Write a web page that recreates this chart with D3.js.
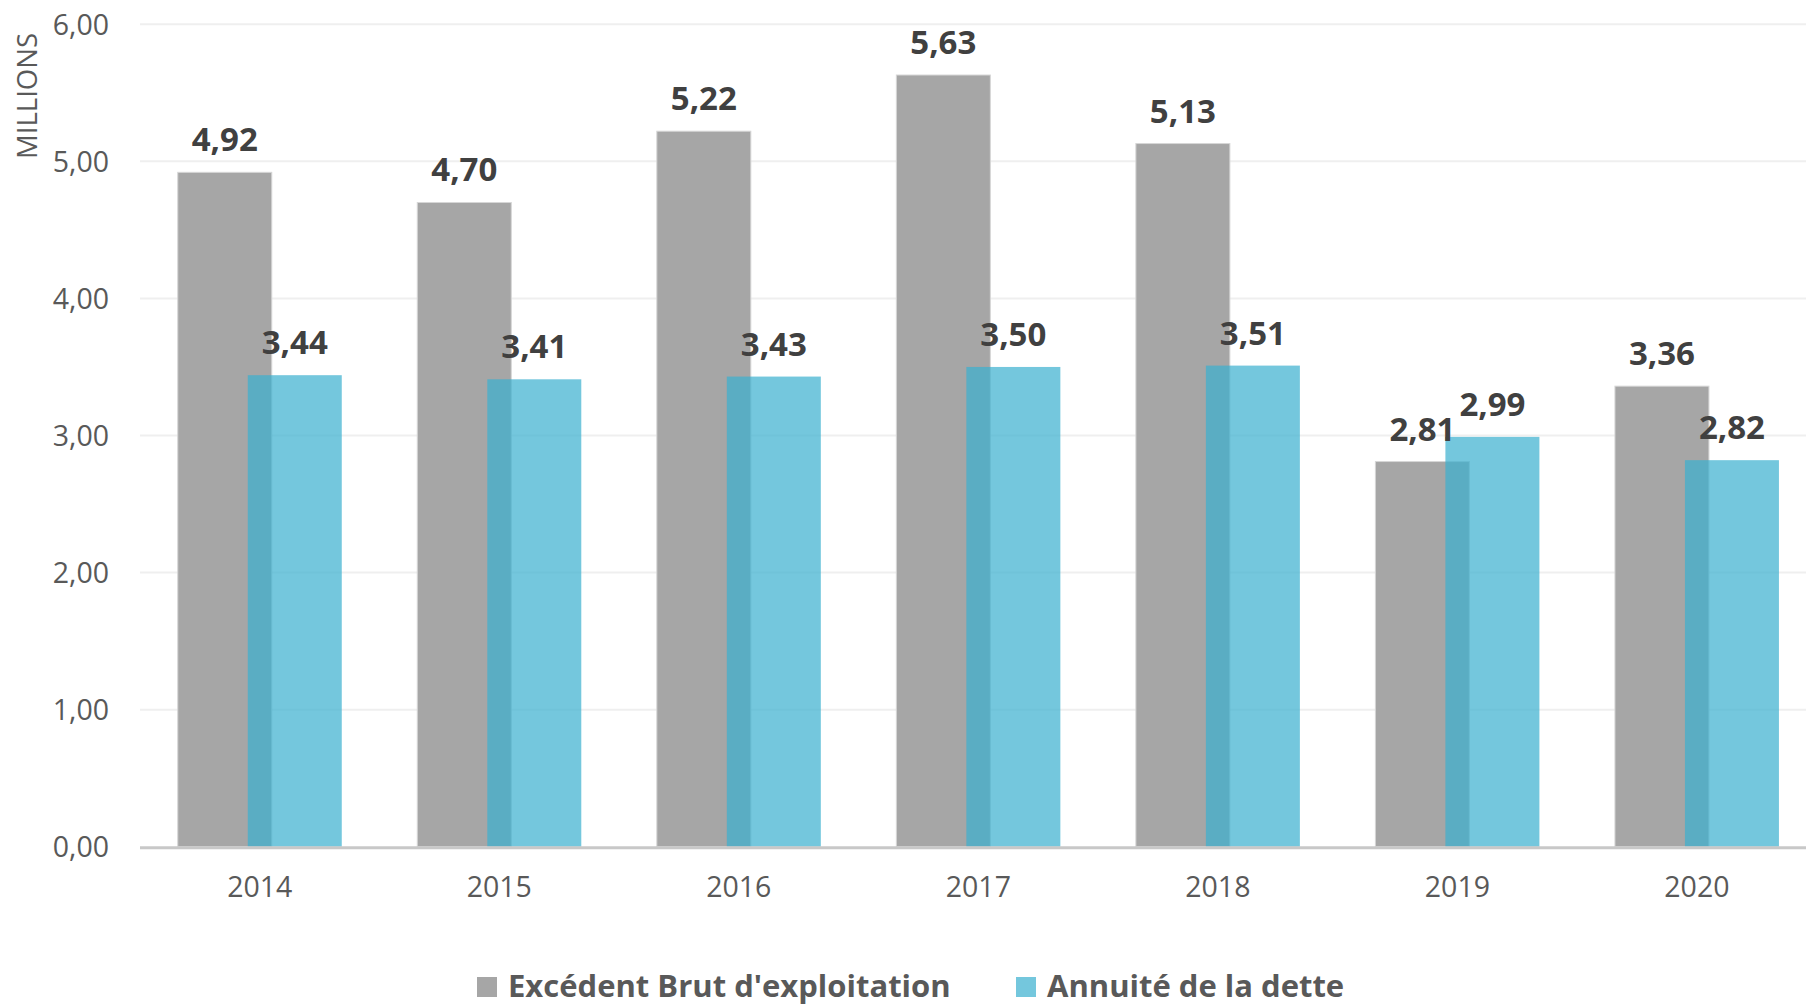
<!DOCTYPE html>
<html>
<head>
<meta charset="utf-8">
<script src="https://cdn.jsdelivr.net/npm/d3@7"></script>
<style>
  html, body { margin: 0; padding: 0; background: #ffffff; overflow: hidden; }
  svg { display: block; font-family: "Open Sans", "Noto Sans", sans-serif; }
</style>
</head>
<body>
<svg id="chart" width="1806" height="1006"></svg>
<script>
// Yearly figures, in millions of euros
const years = ["2014", "2015", "2016", "2017", "2018", "2019", "2020"];
const ebe = [4.92, 4.70, 5.22, 5.63, 5.13, 2.81, 3.36];        // Excédent Brut d'exploitation
const annuite = [3.44, 3.41, 3.43, 3.50, 3.51, 2.99, 2.82];    // Annuité de la dette
const yTicks = [0, 1, 2, 3, 4, 5, 6];
const seriesNames = ["Excédent Brut d'exploitation", "Annuité de la dette"];

const colors = { ebe: "#a6a6a6", annuite: "#3bb0cf" };
const fmt = v => d3.format(".2f")(v).replace(".", ",");

const svg = d3.select("#chart");

const x = d3.scaleBand().domain(years).range([140, 1816.7]).padding(0);
const y = d3.scaleLinear().domain([0, 6]).range([846.7, 24.3]);

const barW = 94;        // width of each bar
const shift = 70;       // horizontal distance between the two bars of a year (they overlap)
const groupW = barW + shift;
const gx = d => x(d) + (x.bandwidth() - groupW) / 2;

// gridlines
svg.append("g")
  .selectAll("line")
  .data(yTicks.filter(t => t > 0))
  .join("line")
  .attr("x1", 140).attr("x2", 1806)
  .attr("y1", d => y(d)).attr("y2", d => y(d))
  .attr("stroke", "#efefef").attr("stroke-width", 2);

// y tick labels
svg.append("g")
  .selectAll("text")
  .data(yTicks)
  .join("text")
  .attr("x", 109).attr("y", d => y(d))
  .attr("dy", "0.36em")
  .attr("text-anchor", "end")
  .attr("font-size", 28.5)
  .attr("fill", "#595959")
  .text(d => fmt(d));

// axis title
svg.append("text")
  .attr("transform", "translate(37,96) rotate(-90)")
  .attr("text-anchor", "middle")
  .attr("font-size", 27.5)
  .attr("fill", "#595959")
  .text("MILLIONS");

// bars: EBE first, the debt annuity drawn over it, slightly transparent
const bars = svg.append("g");
bars.selectAll("rect.ebe")
  .data(years)
  .join("rect")
  .attr("class", "ebe")
  .attr("x", d => gx(d))
  .attr("width", barW)
  .attr("y", (d, i) => y(ebe[i]))
  .attr("height", (d, i) => y(0) - y(ebe[i]))
  .attr("fill", colors.ebe)
  .attr("stroke", "#d6d6d6").attr("stroke-width", 1);

bars.selectAll("rect.ann")
  .data(years)
  .join("rect")
  .attr("class", "ann")
  .attr("x", d => gx(d) + shift)
  .attr("width", barW)
  .attr("y", (d, i) => y(annuite[i]))
  .attr("height", (d, i) => y(0) - y(annuite[i]))
  .attr("fill", colors.annuite)
  .attr("fill-opacity", 0.71);

// x axis line
svg.append("line")
  .attr("x1", 140).attr("x2", 1806)
  .attr("y1", y(0) + 1).attr("y2", y(0) + 1)
  .attr("stroke", "#c8c8c8").attr("stroke-width", 3);

// x tick labels
svg.append("g")
  .selectAll("text")
  .data(years)
  .join("text")
  .attr("x", d => x(d) + x.bandwidth() / 2)
  .attr("y", 887)
  .attr("dy", "0.36em")
  .attr("text-anchor", "middle")
  .attr("font-size", 28.5)
  .attr("fill", "#595959")
  .text(d => d);

// value labels
const labels = svg.append("g")
  .attr("font-size", 33)
  .attr("font-weight", "bold")
  .attr("fill", "#404040")
  .attr("text-anchor", "middle");
labels.selectAll("text.ebe")
  .data(years)
  .join("text")
  .attr("x", d => gx(d) + barW / 2)
  .attr("y", (d, i) => y(ebe[i]) - 21)
  .text((d, i) => fmt(ebe[i]));
labels.selectAll("text.ann")
  .data(years)
  .join("text")
  .attr("x", d => gx(d) + shift + barW / 2)
  .attr("y", (d, i) => y(annuite[i]) - 21)
  .text((d, i) => fmt(annuite[i]));

// legend
const legend = svg.append("g")
  .attr("font-size", 31)
  .attr("font-weight", "bold")
  .attr("fill", "#595959");
const legendItems = [
  { name: seriesNames[0], color: colors.ebe, opacity: 1, x: 477 },
  { name: seriesNames[1], color: colors.annuite, opacity: 0.71, x: 1016 }
];
legendItems.forEach(it => {
  legend.append("rect")
    .attr("x", it.x).attr("y", 977)
    .attr("width", 20).attr("height", 20)
    .attr("fill", it.color).attr("fill-opacity", it.opacity);
  legend.append("text")
    .attr("x", it.x + 31).attr("y", 986)
    .attr("dy", "0.36em")
    .text(it.name);
});
</script>
</body>
</html>
